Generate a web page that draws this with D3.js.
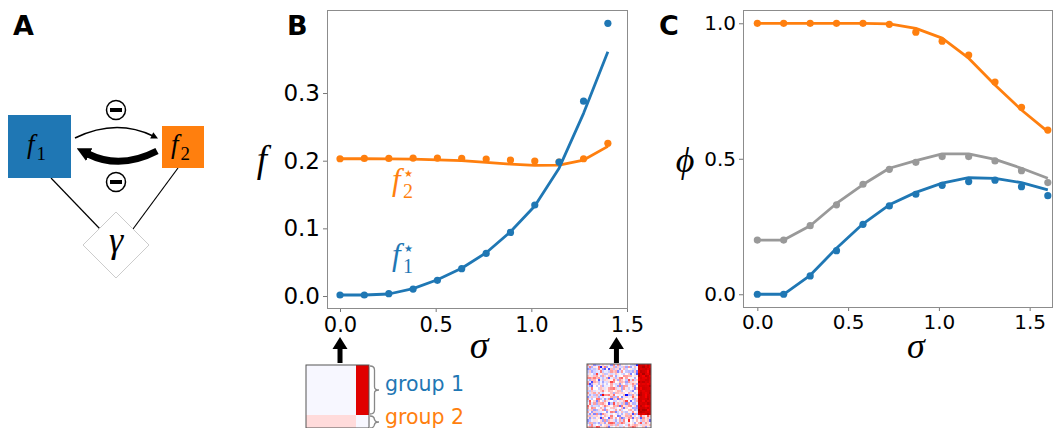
<!DOCTYPE html>
<html>
<head>
<meta charset="utf-8">
<script src="https://cdn.jsdelivr.net/npm/d3@7"></script>
<style>
  body { margin: 0; background: #fff; }
  svg { display: block; }
</style>
</head>
<body>
<script>
const BLUE = '#1f77b4'
const ORANGE = '#ff7f0e'
const GRAY = '#999999'

// panel B: fixed points f1*, f2* vs noise sigma (dots = simulation, line = theory)
const sigmaB = [0, 0.127, 0.255, 0.382, 0.509, 0.636, 0.764, 0.891, 1.018, 1.145, 1.273, 1.4]
const f1Sim = [0.0015, 0.0015, 0.0034, 0.0103, 0.0232, 0.0404, 0.063, 0.094, 0.1345, 0.198, 0.288, 0.403]
const f1Theory = [0.0015, 0.0015, 0.003, 0.011, 0.024, 0.041, 0.064, 0.095, 0.133, 0.189, 0.27, 0.361]
const f2Sim = [0.2029, 0.2034, 0.2034, 0.2039, 0.2039, 0.2034, 0.2024, 0.201, 0.1995, 0.198, 0.2029, 0.2256]
const f2Theory = [0.2029, 0.2029, 0.2027, 0.2022, 0.2012, 0.2, 0.1975, 0.195, 0.193, 0.1935, 0.201, 0.2212]
const xTicksB = [0, 0.5, 1.0, 1.5]
const yTicksB = [0, 0.1, 0.2, 0.3]

// panel C: phi vs sigma
const sigmaC = [0, 0.145, 0.291, 0.436, 0.582, 0.727, 0.873, 1.018, 1.164, 1.309, 1.455, 1.6]
const phi2Sim = [1.0, 1.0, 1.0, 1.0, 1.0, 0.996, 0.967, 0.934, 0.883, 0.783, 0.69, 0.606]
const phi2Theory = [1.0, 1.0, 1.0, 1.0, 1.0, 0.998, 0.981, 0.945, 0.871, 0.772, 0.68, 0.6]
const phiAllSim = [0.2, 0.2, 0.253, 0.33, 0.406, 0.461, 0.487, 0.508, 0.508, 0.492, 0.456, 0.412]
const phiAllTheory = [0.2, 0.2, 0.253, 0.335, 0.405, 0.465, 0.493, 0.518, 0.518, 0.498, 0.465, 0.428]
const phi1Sim = [0, 0, 0.0675, 0.161, 0.258, 0.326, 0.369, 0.402, 0.416, 0.421, 0.397, 0.364]
const phi1Theory = [0, 0, 0.07, 0.17, 0.26, 0.33, 0.376, 0.41, 0.43, 0.428, 0.412, 0.385]
const xTicksC = [0, 0.5, 1.0, 1.5]
const yTicksC = [0, 0.5, 1.0]

// interaction matrices under panel B (block means: rows/cols = group 1, group 2)
const groupShare = [0.8, 0.2]
const blocksClean = [[-0.015, 0.62], [0.07, -0.015]]
const blocksNoisy = [[0.0, 0.66], [0.04, 0.02]]
const noiseSd = 0.15

const svg = d3.select('body').append('svg')
  .attr('width', 1053).attr('height', 428)
  .attr('font-family', 'DejaVu Sans')

const serif = 'Liberation Serif'

// ---------- helpers ----------
const drawFrame = (g, x, y, xTicks, yTicks, xFont, yFont, xPad) => {
  const [x0, x1] = x.range()
  const [y0, y1] = y.range()
  const fmt = d3.format('.1f')

  g.append('g').attr('transform', `translate(0,${y0})`)
    .call(d3.axisBottom(x).tickValues(xTicks).tickFormat(fmt).tickSize(4).tickPadding(xPad))
    .call(ax => ax.select('.domain').remove())
    .call(ax => ax.selectAll('line').attr('stroke', '#777'))
    .call(ax => ax.selectAll('text').attr('font-size', xFont).attr('font-family', 'DejaVu Sans').attr('fill', '#000'))

  g.append('g').attr('transform', `translate(${x0},0)`)
    .call(d3.axisLeft(y).tickValues(yTicks).tickFormat(fmt).tickSize(4).tickPadding(3))
    .call(ax => ax.select('.domain').remove())
    .call(ax => ax.selectAll('line').attr('stroke', '#777'))
    .call(ax => ax.selectAll('text').attr('font-size', yFont).attr('font-family', 'DejaVu Sans').attr('fill', '#000'))

  g.append('rect')
    .attr('x', x0 + 0.5).attr('y', y1 + 0.5)
    .attr('width', x1 - x0).attr('height', y0 - y1)
    .attr('fill', 'none').attr('stroke', '#8c8c8c').attr('stroke-width', 1)
}

const drawSeries = (g, x, y, xs, sim, theory, color) => {
  const line = d3.line().x((d, i) => x(xs[i])).y(d => y(d))
  g.append('path').datum(theory)
    .attr('d', line)
    .attr('fill', 'none').attr('stroke', color)
    .attr('stroke-width', 2.8).attr('stroke-linejoin', 'round')
  g.selectAll(null).data(sim).enter()
    .append('circle')
    .attr('cx', (d, i) => x(xs[i]))
    .attr('cy', d => y(d))
    .attr('r', 3.6)
    .attr('fill', color)
}

const panelLetter = (txt, x, y) => {
  svg.append('text').text(txt)
    .attr('x', x).attr('y', y)
    .attr('font-size', 27).attr('font-weight', 'bold')
    .attr('font-family', 'DejaVu Sans')
}

// ---------- panel A (diagram) ----------
panelLetter('A', 13, 35)
const gA = svg.append('g')

const defs = svg.append('defs')
defs.append('marker').attr('id', 'head-thin')
  .attr('viewBox', '0 0 10 10').attr('refX', 2).attr('refY', 5)
  .attr('markerUnits', 'userSpaceOnUse').attr('markerWidth', 8).attr('markerHeight', 7)
  .attr('orient', 'auto')
  .append('path').attr('d', 'M0,0 L10,5 L0,10 z').attr('fill', '#000')
defs.append('marker').attr('id', 'head-thick')
  .attr('viewBox', '0 0 10 10').attr('refX', 1).attr('refY', 5)
  .attr('markerUnits', 'userSpaceOnUse').attr('markerWidth', 14).attr('markerHeight', 16)
  .attr('orient', 'auto')
  .append('path').attr('d', 'M0,0 L10,5 L0,10 z').attr('fill', '#000')

// lines to gamma
gA.append('line').attr('x1', 51).attr('y1', 178).attr('x2', 100).attr('y2', 229).attr('stroke', '#000').attr('stroke-width', 1.2)
gA.append('line').attr('x1', 178).attr('y1', 168).attr('x2', 133).attr('y2', 229).attr('stroke', '#000').attr('stroke-width', 1.2)

gA.append('rect').attr('x', 8).attr('y', 115).attr('width', 63).attr('height', 63).attr('fill', BLUE)
gA.append('rect').attr('x', 162).attr('y', 126).attr('width', 42).attr('height', 42).attr('fill', ORANGE)

gA.append('path').attr('d', 'M116,212 L149,245 L116,278 L83,245 Z')
  .attr('fill', '#fff').attr('stroke', '#cccccc').attr('stroke-width', 1)

const subLabel = (g, x, y, main, sub, size) => {
  const t = g.append('text').attr('x', x).attr('y', y)
    .attr('font-family', serif).attr('font-size', size)
  t.append('tspan').text(main).attr('font-style', 'italic')
  t.append('tspan').text(sub).attr('font-size', size * 0.7).attr('dx', 2).attr('dy', size * 0.25)
  return t
}
subLabel(gA, 27, 153, 'f', '1', 27)
subLabel(gA, 171, 153, 'f', '2', 27)

gA.append('text').text('γ')
  .attr('x', 116).attr('y', 252).attr('text-anchor', 'middle')
  .attr('font-family', serif).attr('font-style', 'italic').attr('font-size', 36)

// arrows between f1 and f2
gA.append('path').attr('d', 'M75,138 Q116,118 153,136')
  .attr('fill', 'none').attr('stroke', '#000').attr('stroke-width', 1.6)
  .attr('marker-end', 'url(#head-thin)')
gA.append('path').attr('d', 'M157,151 Q120,170 88,154')
  .attr('fill', 'none').attr('stroke', '#000').attr('stroke-width', 7)
  .attr('marker-end', 'url(#head-thick)')

// inhibition symbols
const minusSign = (cx, cy) => {
  gA.append('circle').attr('cx', cx).attr('cy', cy).attr('r', 9.5)
    .attr('fill', '#fff').attr('stroke', '#000').attr('stroke-width', 1.5)
  gA.append('rect').attr('x', cx - 6).attr('y', cy - 2).attr('width', 12).attr('height', 4).attr('fill', '#000')
}
minusSign(116, 110)
minusSign(116, 182)

// ---------- panel B ----------
panelLetter('B', 287, 35)
const xB = d3.scaleLinear().domain([-0.068, 1.5]).range([327, 627])
const yB = d3.scaleLinear().domain([-0.0177, 0.4227]).range([308, 10])
const gB = svg.append('g')
drawFrame(gB, xB, yB, xTicksB, yTicksB, 21, 23, 5)
drawSeries(gB, xB, yB, sigmaB, f2Sim, f2Theory, ORANGE)
drawSeries(gB, xB, yB, sigmaB, f1Sim, f1Theory, BLUE)

gB.append('text').text('f')
  .attr('x', 262).attr('y', 172).attr('text-anchor', 'middle')
  .attr('font-family', serif).attr('font-style', 'italic').attr('font-size', 37)
gB.append('text').text('σ')
  .attr('x', 479).attr('y', 358).attr('text-anchor', 'middle')
  .attr('font-family', serif).attr('font-style', 'italic').attr('font-size', 38)

// f with subscript and a star above it; separate text nodes so they do not collide
const starLabel = (x, y, sub, color) => {
  gB.append('text').text('f').attr('x', x).attr('y', y)
    .attr('font-family', serif).attr('font-style', 'italic').attr('font-size', 31).attr('fill', color)
  gB.append('text').text(sub).attr('x', x + 11).attr('y', y + 8)
    .attr('font-family', serif).attr('font-size', 20).attr('fill', color)
  gB.append('text').text('★').attr('x', x + 12).attr('y', y - 13)
    .attr('font-family', 'DejaVu Sans').attr('font-size', 10).attr('fill', color)
}
starLabel(392, 190, '2', ORANGE)
starLabel(392, 265, '1', BLUE)

// ---------- panel C ----------
panelLetter('C', 659, 35)
const xC = d3.scaleLinear().domain([-0.079, 1.623]).range([743, 1052])
const yC = d3.scaleLinear().domain([-0.047, 1.049]).range([307, 10])
const gC = svg.append('g')
drawFrame(gC, xC, yC, xTicksC, yTicksC, 20, 20, 4)
drawSeries(gC, xC, yC, sigmaC, phiAllSim, phiAllTheory, GRAY)
drawSeries(gC, xC, yC, sigmaC, phi1Sim, phi1Theory, BLUE)
drawSeries(gC, xC, yC, sigmaC, phi2Sim, phi2Theory, ORANGE)

gC.append('text').text('ϕ')
  .attr('x', 685).attr('y', 172).attr('text-anchor', 'middle')
  .attr('font-family', serif).attr('font-style', 'italic').attr('font-size', 36)
gC.append('text').text('σ')
  .attr('x', 916).attr('y', 358).attr('text-anchor', 'middle')
  .attr('font-family', serif).attr('font-style', 'italic').attr('font-size', 36)

// ---------- matrices under panel B ----------
const N = 30
const n1 = Math.round(N * groupShare[0])
const grp = i => (i < n1 ? 0 : 1)
const cmap = d3.scaleLinear()
  .domain([-1, -0.5, 0, 0.5, 1])
  .range(['#00004c', '#0000ff', '#ffffff', '#ff0000', '#7f0000'])
  .clamp(true)

// fixed-seed texture so the noisy matrix looks the same every time
const noise = d3.randomNormal.source(d3.randomLcg(0.4217))(0, noiseSd)
const redNoise = d3.randomNormal.source(d3.randomLcg(0.913))(0, 0.07)

const cellsFor = (blocks, noisy) => {
  const cells = []
  for (let i = 0; i < N; i++) {
    for (let j = 0; j < N; j++) {
      const m = blocks[grp(i)][grp(j)]
      let v = m
      if (noisy) v += (m > 0.3 ? redNoise() : noise())
      cells.push({ i, j, v })
    }
  }
  return cells
}

const drawMatrix = (x0, y0, size, cells) => {
  const s = d3.scaleBand().domain(d3.range(N)).range([0, size])
  const g = svg.append('g').attr('transform', `translate(${x0},${y0})`)
  g.selectAll('rect.cell').data(cells).enter()
    .append('rect').attr('class', 'cell')
    .attr('x', d => s(d.j)).attr('y', d => s(d.i))
    .attr('width', s.bandwidth() + 0.3).attr('height', s.bandwidth() + 0.3)
    .attr('shape-rendering', 'crispEdges')
    .attr('fill', d => cmap(d.v))
  g.append('rect').attr('x', 0).attr('y', 0).attr('width', size).attr('height', size)
    .attr('fill', 'none').attr('stroke', '#555').attr('stroke-width', 1)
}

const upArrow = (cx, tipY) => {
  svg.append('rect').attr('x', cx - 2.5).attr('y', tipY + 10).attr('width', 5).attr('height', 16).attr('fill', '#000')
  svg.append('path').attr('d', `M${cx},${tipY} L${cx + 7.5},${tipY + 12} L${cx - 7.5},${tipY + 12} Z`).attr('fill', '#000')
}

upArrow(xB(0), 337)
upArrow(xB(1.45) - 1, 337)
drawMatrix(306, 365, 63, cellsFor(blocksClean, false))
drawMatrix(587, 364, 64, cellsFor(blocksNoisy, true))

// braces + group labels
const brace = (x, ya, yb, w) => {
  const ym = (ya + yb) / 2
  const h = w / 2
  const d = `M${x},${ya} Q${x + h},${ya} ${x + h},${ya + 4} L${x + h},${ym - 3} Q${x + h},${ym} ${x + w},${ym}` +
    ` Q${x + h},${ym} ${x + h},${ym + 3} L${x + h},${yb - 4} Q${x + h},${yb} ${x},${yb}`
  svg.append('path').attr('d', d).attr('fill', 'none').attr('stroke', '#888').attr('stroke-width', 1.3)
}
brace(370, 366, 414, 9)
brace(370, 416, 428, 9)

svg.append('text').text('group 1').attr('x', 385).attr('y', 391)
  .attr('font-size', 20.5).attr('fill', BLUE)
svg.append('text').text('group 2').attr('x', 385).attr('y', 424)
  .attr('font-size', 20.5).attr('fill', ORANGE)
</script>
</body>
</html>
